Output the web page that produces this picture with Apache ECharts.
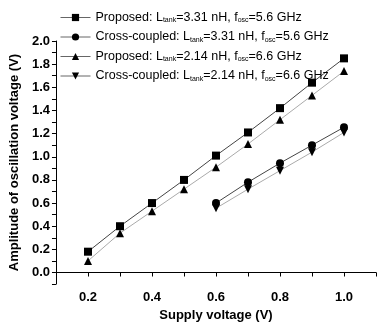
<!DOCTYPE html>
<html>
<head>
<meta charset="utf-8">
<script src="https://cdn.jsdelivr.net/npm/echarts@6/dist/echarts.min.js"></script>
<style>
  html, body { margin: 0; padding: 0; background: #fff; }
  #chart { width: 379px; height: 327px; }
</style>
</head>
<body>
<div id="chart"></div>
<script>
const supplyAll = [0.2, 0.3, 0.4, 0.5, 0.6, 0.7, 0.8, 0.9, 1.0]
const supplyCross = [0.6, 0.7, 0.8, 0.9, 1.0]
const proposed331 = [0.18, 0.40, 0.60, 0.80, 1.01, 1.21, 1.42, 1.64, 1.85]
const cross331 = [0.60, 0.78, 0.945, 1.10, 1.255]
const proposed214 = [0.10, 0.34, 0.53, 0.72, 0.91, 1.11, 1.32, 1.53, 1.74]
const cross214 = [0.555, 0.72, 0.88, 1.04, 1.21]
const names = [
  'Proposed: L{sub|tank}=3.31 nH, f{sub|osc}=5.6 GHz',
  'Cross-coupled: L{sub|tank}=3.31 nH, f{sub|osc}=5.6 GHz',
  'Proposed: L{sub|tank}=2.14 nH, f{sub|osc}=6.6 GHz',
  'Cross-coupled: L{sub|tank}=2.14 nH, f{sub|osc}=6.6 GHz'
]

const font = 'Liberation Sans, Arial, sans-serif'
const zip = (xs, ys) => xs.map((x, i) => [x, ys[i]])
const evenLabel = v => {
  const r = Math.round(v * 10)
  return r % 2 === 0 ? (r / 10).toFixed(1) : ''
}

function line(name, data, symbol, color) {
  return {
    name,
    type: 'line',
    data,
    symbol,
    symbolSize: 8,
    lineStyle: { width: 1, color },
    itemStyle: { color: '#000' },
    emphasis: { disabled: true }
  }
}

const chart = echarts.init(document.getElementById('chart'))
chart.setOption({
  animation: false,
  textStyle: { fontFamily: font },
  legend: {
    orient: 'vertical',
    left: 55,
    top: 6,
    itemWidth: 30,
    itemHeight: 9,
    itemGap: 6.5,
    data: names,
    lineStyle: { color: '#666', width: 1 },
    textStyle: {
      fontSize: 12.5,
      color: '#000',
      fontFamily: font,
      rich: {
        sub: { fontSize: 7, verticalAlign: 'bottom', padding: [6, 0, 0, 0], color: '#000' }
      }
    }
  },
  grid: { left: 52, right: 0, top: 41, bottom: 36 },
  xAxis: {
    type: 'value',
    min: 0.1,
    max: 1.1,
    interval: 0.1,
    name: 'Supply voltage (V)',
    nameLocation: 'middle',
    nameGap: 23,
    nameTextStyle: { fontWeight: 'bold', fontSize: 13, color: '#000' },
    axisLine: { lineStyle: { color: '#000', width: 1 } },
    axisTick: { length: 4, lineStyle: { color: '#000' } },
    axisLabel: { formatter: evenLabel, fontWeight: 'bold', fontSize: 13, color: '#000', margin: 7 },
    splitLine: { show: false }
  },
  yAxis: {
    type: 'value',
    min: -0.1,
    max: 2.0,
    interval: 0.1,
    name: 'Amplitude of oscillation voltage (V)',
    nameLocation: 'middle',
    nameGap: 34,
    nameTextStyle: { fontWeight: 'bold', fontSize: 13, color: '#000' },
    axisLine: { show: true, lineStyle: { color: '#000', width: 1 } },
    axisTick: { show: true, length: 4, lineStyle: { color: '#000' } },
    axisLabel: { formatter: evenLabel, fontWeight: 'bold', fontSize: 13, color: '#000', margin: 6 },
    splitLine: { show: false }
  },
  series: [
    line(names[0], zip(supplyAll, proposed331), 'rect', '#444'),
    line(names[1], zip(supplyCross, cross331), 'circle', '#444'),
    line(names[2], zip(supplyAll, proposed214), 'triangle', '#aaa'),
    line(names[3], zip(supplyCross, cross214), 'path://M0,0 L10,0 L5,9 Z', '#aaa')
  ]
})
</script>
</body>
</html>
